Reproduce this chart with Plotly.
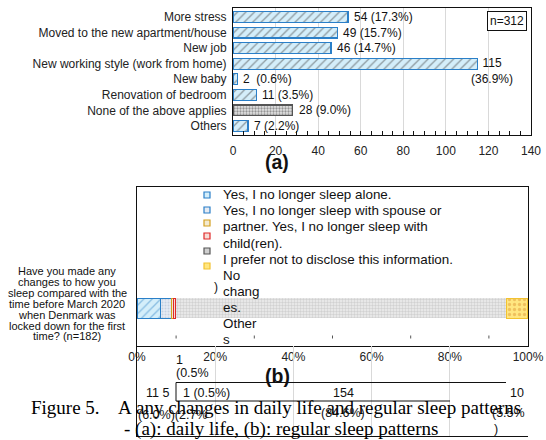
import plotly.graph_objects as go

W, H = 546, 440

# ---------------- data: (a) daily life ----------------
categories_a = ["More stress", "Moved to the new apartment/house", "New job",
                "New working style (work from home)", "New baby",
                "Renovation of bedroom", "None of the above applies", "Others"]
counts_a = [54, 49, 46, 115, 2, 11, 28, 7]
pct_a = [17.3, 15.7, 14.7, 36.9, 0.6, 3.5, 9.0, 2.2]
n_a = 312
xticks_a = [0, 20, 40, 60, 80, 100, 120, 140]

# ---------------- data: (b) sleep patterns ----------------
series_b = ["Yes, I no longer sleep alone.",
            "Yes, I no longer sleep with spouse or partner.",
            "Yes, I no longer sleep with child(ren).",
            "I prefer not to disclose this information.",
            "No changes.", "Others"]
counts_b = [11, 5, 1, 1, 154, 10]
pct_b = [6.0, 2.7, 0.5, 0.5, 84.6, 5.5]
n_b = 182
xticks_b = [0, 20, 40, 60, 80, 100]
xticktext_b = ["0%", "20%", "40%", "60%", "80%", "100%"]
minor_ticks_b = [10, 30, 50, 70, 90]

FONT = "Liberation Sans, Arial, sans-serif"
SERIF = "Liberation Serif, Times New Roman, serif"
BLUE = "#2a7fc8"
LBLUE = "#d4eefa"


def px(x):
    return x / W


def py(y):
    return 1 - y / H


fig = go.Figure()

# ---------- (a) bars ----------
is_none = [c == "None of the above applies" for c in categories_a]
bg_a = ["#e4e4e4" if f else LBLUE for f in is_none]
fg_a = ["#9a9a9a" if f else "#3d8cc9" for f in is_none]
sh_a = ["." if f else "/" for f in is_none]
sz_a = [3 if f else 6 for f in is_none]
so_a = [0.45 if f else 0.22 for f in is_none]
ln_a = ["#555555" if f else BLUE for f in is_none]
fig.add_trace(go.Bar(
    y=categories_a, x=counts_a, orientation="h", xaxis="x", yaxis="y",
    width=0.7, showlegend=False, hoverinfo="skip",
    marker=dict(color=bg_a, line=dict(color=ln_a, width=1.2),
                pattern=dict(shape=sh_a, fgcolor=fg_a, bgcolor=bg_a,
                             size=sz_a, solidity=so_a))))

# ---------- (b) stacked 100% bar ----------
tot_b = sum(counts_b)
share_b = [c / tot_b * 100 for c in counts_b]
seg_style = [
    dict(bg=LBLUE, fg="#3d8cc9", shape="/", size=6, sol=0.22, line=BLUE, lw=1.4),
    dict(bg="#e6ebf3", fg="#a8b8d0", shape=".", size=3, sol=0.4, line=BLUE, lw=1.4),
    dict(bg="#f3ead0", fg="#e0c070", shape="", size=3, sol=0.3, line="#d4a020", lw=1.4),
    dict(bg="#f6dcd6", fg="#e08080", shape="", size=3, sol=0.3, line="#e02828", lw=1.4),
    dict(bg="#eeeeee", fg="#b4b4b4", shape=".", size=3, sol=0.5, line="#eeeeee", lw=0),
    dict(bg="#ffe680", fg="#e09a3a", shape=".", size=5, sol=0.35, line="#f2c230", lw=1.4),
]
BAR_Y = 0.236
for name, v, st in zip(series_b, share_b, seg_style):
    fig.add_trace(go.Bar(
        y=[BAR_Y], x=[v], name=name, orientation="h", xaxis="x2", yaxis="y2",
        width=0.126, showlegend=False, hoverinfo="skip",
        marker=dict(color=st["bg"], line=dict(color=st["line"], width=st["lw"]),
                    pattern=dict(shape=st["shape"], fgcolor=st["fg"], bgcolor=st["bg"],
                                 size=st["size"], solidity=st["sol"]))))

# empty trace for the lower grid frame
fig.add_trace(go.Scatter(x=[], y=[], xaxis="x3", yaxis="y3", showlegend=False,
                         hoverinfo="skip"))

annotations = []
shapes = []


def ann(x, y, text, size=12, xanchor="center", yanchor="middle", family=FONT,
        color="#111111", bold=False, align="left", **kw):
    if bold:
        text = "<b>" + text + "</b>"
    d = dict(x=px(x), y=py(y), xref="paper", yref="paper", text=text,
             showarrow=False, xanchor=xanchor, yanchor=yanchor, align=align,
             font=dict(size=size, family=family, color=color))
    d.update(kw)
    annotations.append(d)


# value labels (a)
for cat, c, p in zip(categories_a, counts_a, pct_a):
    if c == max(counts_a):
        annotations.append(dict(x=c, y=cat, xref="x", yref="y", showarrow=False,
                                text=f"{c}<br>({p:.1f}%)", xanchor="left",
                                yanchor="middle", xshift=-9, yshift=-7, align="center",
                                font=dict(size=12, family=FONT, color="#111111")))
    else:
        sep = "\u00a0\u00a0" if c == min(counts_a) else " "
        annotations.append(dict(x=c, y=cat, xref="x", yref="y", showarrow=False,
                                text=f"{c}{sep}({p:.1f}%)", xanchor="left",
                                yanchor="middle", xshift=4,
                                font=dict(size=12, family=FONT, color="#111111")))

# n=312 box
ann(507, 21.5, f"n={n_a}", size=12, bordercolor="#111111", borderwidth=1, borderpad=2,
    bgcolor="white")
# (a)
ann(277, 162, "(a)", size=19.5, bold=True)

# legend (b)
leg_marker_y = [195, 210, 223, 236, 251, 266]
for yy, st in zip(leg_marker_y, seg_style):
    edge = st["line"] if st["lw"] > 0 else "#555555"
    if st["shape"] == "." and st["bg"] == "#eeeeee":
        edge, fill = "#555555", "#cfcfcf"
    else:
        fill = st["bg"]
    shapes.append(dict(type="rect", xref="paper", yref="paper",
                       x0=px(204), x1=px(210), y0=py(yy + 3), y1=py(yy - 3),
                       fillcolor=fill, line=dict(color=edge, width=1.2)))
legend_lines = ["Yes, I no longer sleep alone.",
                "Yes, I no longer sleep with spouse or",
                "partner. Yes, I no longer sleep with",
                "child(ren).",
                "I prefer not to disclose this information.",
                "No", "chang", "es.", "Other", "s"]
for i, t in enumerate(legend_lines):
    ann(221, 195 + 16 * i, t, size=13.4, xanchor="left")
ann(216, 287, ")", size=12)

# question text
q_lines = ["Have you made any", "changes to how you", "sleep compared with the",
           "time before March 2020", "when Denmark was",
           "locked down for the first", f"time? (n={n_b})"]
for i, t in enumerate(q_lines):
    ann(67, 271 + 10.9 * i, t, size=11)

# residual labels of (b)
ann(174, 360, f"{counts_b[2]}", size=12.5, xanchor="left")
ann(174, 373, f"({pct_b[2]:.1f}%", size=12.5, xanchor="left")
ann(277, 376, "(b)", size=19.5, bold=True)
ann(144, 393, f"{counts_b[0]} {counts_b[1]}", size=12.5, xanchor="left")
ann(181, 393, f"{counts_b[3]} ({pct_b[3]:.1f}%)", size=12.5, xanchor="left")
ann(343, 393, f"{counts_b[4]}", size=12.5)
ann(517, 393, f"{counts_b[5]}", size=12.5)

# caption
ann(29, 407, "Figure 5.", size=19, xanchor="left", family=SERIF, color="#000000")
ann(116, 407, "A", size=19, xanchor="left", family=SERIF, color="#000000")
ann(134, 407, "any changes in daily life and regular sleep patterns", size=19,
    xanchor="left", family=SERIF, color="#000000")
ann(122, 429, "- (a): daily life, (b): regular sleep patterns", size=19,
    xanchor="left", family=SERIF, color="#000000")

# overlapping percent labels
ann(136, 415, f"({pct_b[0]:.1f}%)({pct_b[1]:.1f}%", size=12.5, xanchor="left")
ann(343, 413, f"({pct_b[4]:.1f}%)", size=12.5)
ann(490, 413, f"({pct_b[5]:.1f}%", size=12.5, xanchor="left")
ann(492, 429, ")", size=12.5, xanchor="left")

# stray frame lines
for x0, y0, x1, y1 in [(176, 382.5, 506, 382.5), (176, 382.5, 176, 401),
                       (176, 401, 450, 401)]:
    shapes.append(dict(type="line", xref="paper", yref="paper",
                       x0=px(x0), y0=py(y0), x1=px(x1), y1=py(y1),
                       line=dict(color="#111111", width=1)))
# small tick marks inside (b) box
for t in minor_ticks_b:
    shapes.append(dict(type="line", xref="x2", yref="paper", x0=t, x1=t,
                       y0=py(338.5), y1=py(335.5), line=dict(color="#555555", width=1)))

AX = dict(color="#111111", linecolor="#111111", linewidth=1, zeroline=False,
          automargin=False,
          tickfont=dict(size=12, family=FONT, color="#222222"))

fig.update_layout(
    width=W, height=H, margin=dict(l=0, r=0, t=0, b=0, autoexpand=False),
    paper_bgcolor="white", plot_bgcolor="white", barmode="stack",
    bargap=0.3, font=dict(family=FONT, color="#111111"),
    xaxis=dict(domain=[px(233), px(531)], range=[0, 140], tickvals=xticks_a,
               showgrid=True, gridcolor="#d9d9d9", gridwidth=1,
               showline=True, mirror=True, ticks="inside", ticklen=4,
               tickcolor="#111111", minor=dict(dtick=5, ticks="inside", ticklen=4,
                                               tickcolor="#111111", showgrid=False),
               anchor="y", ticklabelstandoff=5, **AX),
    yaxis=dict(domain=[py(135), py(8)], type="category", autorange="reversed",
               showline=True, mirror=True, ticks="", showgrid=False, anchor="x",
               ticklabelstandoff=3, **AX),
    xaxis2=dict(domain=[px(137), px(528)], range=[0, 100], tickmode="array",
                tickvals=xticks_b, ticktext=xticktext_b,
                showgrid=False, showline=True, mirror=True,
                ticks="", anchor="y2", **AX),
    yaxis2=dict(domain=[py(346), py(187)], range=[0, 1], showticklabels=False,
                showline=True, mirror=True, ticks="", showgrid=False, anchor="x2",
                **AX),
    xaxis3=dict(domain=[px(137), px(528)], range=[0, 100], tickvals=xticks_b,
                showticklabels=False, showgrid=True, gridcolor="#d9d9d9",
                showline=True, ticks="", anchor="y3", **AX),
    yaxis3=dict(domain=[py(436), py(346)], range=[0, 1], showticklabels=False,
                showgrid=False, showline=True, ticks="", anchor="x3", **AX),
    annotations=annotations, shapes=shapes,
)

fig.write_html("out.html")
